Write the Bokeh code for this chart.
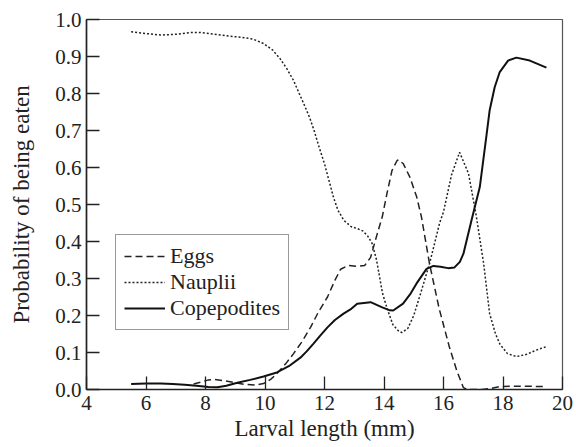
from bokeh.plotting import figure
from bokeh.models import Range1d, FixedTicker, NumeralTickFormatter, Legend, LegendItem
from bokeh.embed import file_html
from bokeh.resources import INLINE

# Larval length (mm) and probability of being eaten
eggs_x = [7.6, 7.85, 8.1, 8.3, 8.6, 8.95, 9.3, 9.7, 9.95, 10.2, 10.4, 10.7, 10.96, 11.25, 11.53,
          11.8, 12.1, 12.35, 12.54, 12.8, 13.1, 13.35, 13.55, 13.77, 13.94, 14.1, 14.27, 14.44,
          14.49, 14.65, 14.87, 15.1, 15.26, 15.53, 15.85, 16.2, 16.45, 16.67, 16.8, 17.3, 17.6,
          17.9, 18.5, 19.46]
eggs_y = [0.015, 0.02, 0.026, 0.027, 0.024, 0.019, 0.014, 0.012, 0.016, 0.028, 0.043, 0.07, 0.097,
          0.13, 0.168, 0.21, 0.25, 0.295, 0.325, 0.335, 0.333, 0.335, 0.357, 0.42, 0.466, 0.53,
          0.592, 0.619, 0.621, 0.61, 0.574, 0.52, 0.466, 0.34, 0.22, 0.114, 0.05, 0.005, 0.0, 0.0,
          0.003, 0.008, 0.009, 0.008]

nauplii_x = [5.5, 6.0, 6.5, 7.0, 7.5, 7.8, 8.3, 8.8, 9.3, 9.6, 9.95, 10.25, 10.5, 10.75, 10.96,
             11.15, 11.3, 11.5, 11.65, 11.8, 12.0, 12.15, 12.3, 12.45, 12.65, 12.9, 13.1, 13.3,
             13.45, 13.6, 13.75, 13.95, 14.1, 14.3, 14.5, 14.6, 14.8, 15.0, 15.25, 15.53, 15.87,
             16.0, 16.27, 16.54, 16.84, 17.1, 17.35, 17.55, 17.75, 17.9, 18.15, 18.45, 18.8,
             19.1, 19.46]
nauplii_y = [0.967, 0.962, 0.958, 0.960, 0.965, 0.965, 0.960, 0.955, 0.951, 0.947, 0.935, 0.918,
             0.895, 0.865, 0.835, 0.80, 0.773, 0.735, 0.70, 0.66, 0.61, 0.565, 0.52, 0.485, 0.457,
             0.44, 0.435, 0.428, 0.415, 0.395, 0.35, 0.26, 0.22, 0.175, 0.157, 0.154, 0.165, 0.20,
             0.265, 0.34, 0.45, 0.48, 0.58, 0.641, 0.584, 0.47, 0.34, 0.205, 0.15, 0.122, 0.097,
             0.089, 0.095, 0.106, 0.116]

cope_x = [5.5, 6.0, 6.5, 6.9, 7.3, 7.7, 8.1, 8.4, 8.7, 9.07, 9.5, 9.95, 10.4, 10.8, 11.19, 11.4,
          11.63, 11.85, 12.1, 12.35, 12.64, 12.9, 13.1, 13.55, 13.94, 14.2, 14.31, 14.64, 14.9,
          15.09, 15.43, 15.66, 15.9, 16.15, 16.37, 16.55, 16.67, 16.94, 17.22, 17.45, 17.55,
          17.72, 17.89, 18.17, 18.45, 18.9, 19.46]
cope_y = [0.015, 0.016, 0.016, 0.015, 0.013, 0.010, 0.007, 0.006, 0.010, 0.018, 0.026, 0.035, 0.046,
          0.063, 0.086, 0.103, 0.124, 0.145, 0.168, 0.188, 0.205, 0.218, 0.232, 0.236, 0.222,
          0.214, 0.2135, 0.232, 0.26, 0.286, 0.326, 0.334, 0.332, 0.328, 0.33, 0.345, 0.367,
          0.457, 0.547, 0.69, 0.754, 0.817, 0.858, 0.889, 0.897, 0.889, 0.87]

x_ticks = [4, 6, 8, 10, 12, 14, 16, 18, 20]
y_ticks = [0.0, 0.1, 0.2, 0.3, 0.4, 0.5, 0.6, 0.7, 0.8, 0.9, 1.0]
x_title = "Larval length (mm)"
y_title = "Probability of being eaten"

FONT = "Liberation Serif"

p = figure(frame_width=476, frame_height=370, output_backend="svg", toolbar_location=None,
           x_range=Range1d(4, 20), y_range=Range1d(0, 1.0),
           min_border_left=86, min_border_top=19, min_border_right=14, min_border_bottom=58)
p.background_fill_color = "white"
p.border_fill_color = "white"
p.outline_line_color = "#555555"
p.outline_line_width = 1.2
p.xgrid.visible = False
p.ygrid.visible = False

for ax in (p.xaxis[0], p.yaxis[0]):
    ax.major_tick_in = 13
    ax.major_tick_out = 0
    ax.minor_tick_in = 0
    ax.minor_tick_out = 0
    ax.axis_line_color = "#222222"
    ax.axis_line_width = 1.6
    ax.major_tick_line_color = "#222222"
    ax.major_tick_line_width = 1.3
    ax.major_label_text_font = FONT
    ax.major_label_text_font_size = "21px"
    ax.major_label_text_color = "#222222"
    ax.axis_label_text_font = FONT
    ax.axis_label_text_font_size = "23px"
    ax.axis_label_text_font_style = "normal"
    ax.axis_label_text_color = "#222222"

p.xaxis.ticker = FixedTicker(ticks=x_ticks)
p.yaxis.ticker = FixedTicker(ticks=y_ticks)
p.yaxis.formatter = NumeralTickFormatter(format="0.0")
p.xaxis.axis_label = x_title
p.yaxis.axis_label = y_title
p.xaxis.major_label_standoff = 6
p.yaxis.major_label_standoff = 5
p.xaxis.axis_label_standoff = 3
p.yaxis.axis_label_standoff = 18

r_eggs = p.line(eggs_x, eggs_y, line_color="#222222", line_width=1.5, line_dash="7 4")
r_naup = p.line(nauplii_x, nauplii_y, line_color="#222222", line_width=1.5, line_dash="2 2")
r_cope = p.line(cope_x, cope_y, line_color="#111111", line_width=2.0)

legend = Legend(items=[LegendItem(label="Eggs", renderers=[r_eggs]),
                       LegendItem(label="Nauplii", renderers=[r_naup]),
                       LegendItem(label="Copepodites", renderers=[r_cope])],
                location=(29, 59), orientation="vertical")
legend.label_text_font = FONT
legend.label_text_font_size = "22px"
legend.label_text_color = "#222222"
legend.glyph_width = 41
legend.glyph_height = 20
legend.label_height = 20
legend.label_standoff = 5
legend.spacing = 0
legend.padding = 8
legend.margin = 0
legend.border_line_color = "#333333"
legend.border_line_width = 1.2
legend.background_fill_alpha = 1.0
p.add_layout(legend)

open("out.html", "w").write(file_html(p, INLINE))
